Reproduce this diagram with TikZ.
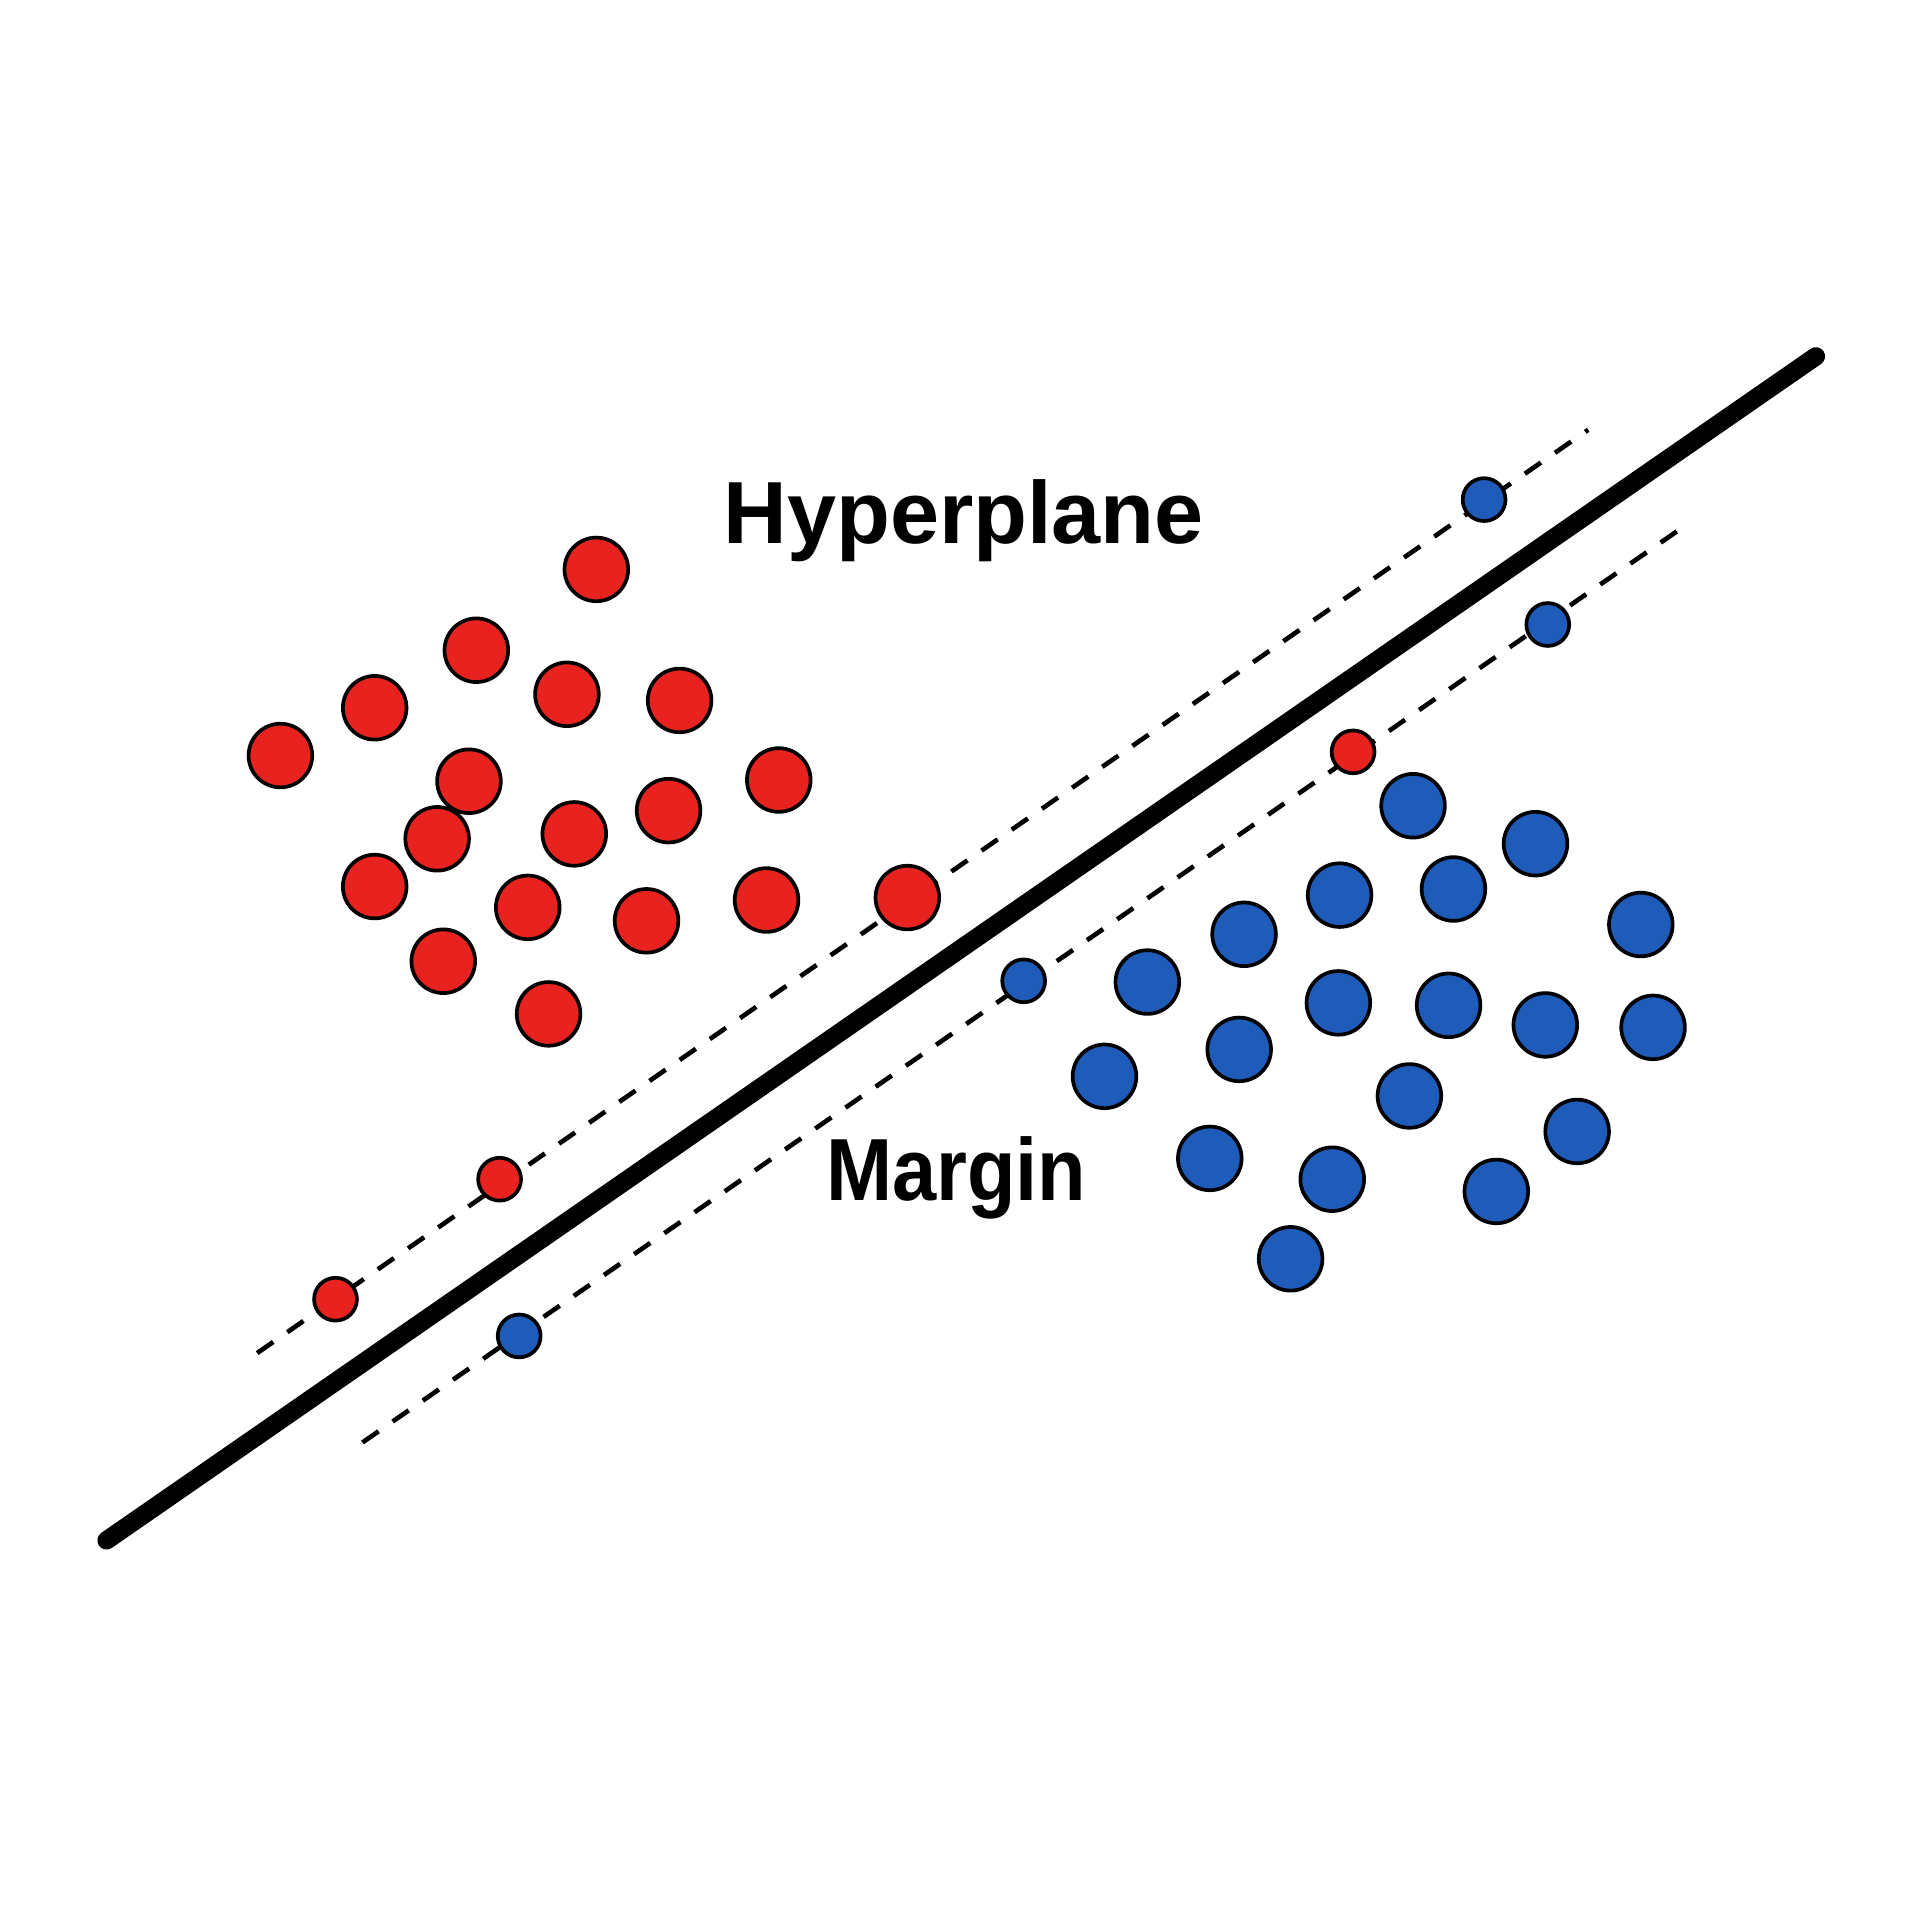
\documentclass[tikz,border=0pt]{standalone}
\usepackage{fontspec}
\setmainfont{Liberation Sans}
\definecolor{dotred}{HTML}{E8231F}
\definecolor{dotblue}{HTML}{1F5BB8}
\begin{document}
\begin{tikzpicture}[x=0.1mm,y=-0.1mm,
  reddot/.style={circle,draw=black,line width=0.3mm,fill=dotred,minimum size=5.2mm,inner sep=0pt},
  bluedot/.style={circle,draw=black,line width=0.3mm,fill=dotblue,minimum size=5.2mm,inner sep=0pt},
  smallred/.style={reddot,minimum size=3.5mm},
  smallblue/.style={bluedot,minimum size=3.5mm},
  marginline/.style={line width=0.38mm,dash pattern=on 1.6mm off 1.4mm},
  hyperline/.style={line width=1.5mm,line cap=round},
  lbl/.style={font=\bfseries\fontsize{20.5}{24}\selectfont,inner sep=0pt}]
\useasboundingbox[fill=white] (0,0) rectangle (1568,1568);
% lines
\coordinate (h1) at (87,1258);
\coordinate (h2) at (1483,291);
\coordinate (u1) at (210,1105);
\coordinate (u2) at (1297,351);
\coordinate (l1) at (296,1178);
\coordinate (l2) at (1378,428);
\draw[marginline] (u1) -- (u2);
\draw[marginline] (l1) -- (l2);
\draw[hyperline] (h1) -- (h2);
% labels
\node[lbl] (hyp) at (787,425) {Hyperplane};
\node[lbl,xscale=0.9,transform shape] (mar) at (781,962) {Margin};
% red points
\node[reddot] (r1) at (487,465) {};
\node[reddot] (r2) at (389,531) {};
\node[reddot] (r3) at (306,578) {};
\node[reddot] (r4) at (463,567) {};
\node[reddot] (r5) at (555,572) {};
\node[reddot] (r6) at (229,617) {};
\node[reddot] (r7) at (383,638) {};
\node[reddot] (r8) at (636,637) {};
\node[reddot] (r9) at (357,685) {};
\node[reddot] (r10) at (469,681) {};
\node[reddot] (r11) at (546,662) {};
\node[reddot] (r12) at (306,724) {};
\node[reddot] (r13) at (431,741) {};
\node[reddot] (r14) at (528,752) {};
\node[reddot] (r15) at (626,735) {};
\node[reddot] (r16) at (362,785) {};
\node[reddot] (r17) at (448,828) {};
\node[reddot] (r18) at (741,733) {};
\node[smallred] (rs1) at (408,963) {};
\node[smallred] (rs2) at (274,1061) {};
\node[smallred] (rs3) at (1105,614) {};
% blue points
\node[bluedot] (b1) at (1154,658) {};
\node[bluedot] (b2) at (1254,689) {};
\node[bluedot] (b3) at (1094,731) {};
\node[bluedot] (b4) at (1187,726) {};
\node[bluedot] (b5) at (1340,755) {};
\node[bluedot] (b6) at (1016,763) {};
\node[bluedot] (b7) at (937,802) {};
\node[bluedot] (b8) at (1093,819) {};
\node[bluedot] (b9) at (1183,821) {};
\node[bluedot] (b10) at (1262,837) {};
\node[bluedot] (b11) at (1350,839) {};
\node[bluedot] (b12) at (1012,857) {};
\node[bluedot] (b13) at (902,879) {};
\node[bluedot] (b14) at (1151,895) {};
\node[bluedot] (b15) at (1288,924) {};
\node[bluedot] (b16) at (988,946) {};
\node[bluedot] (b17) at (1088,963) {};
\node[bluedot] (b18) at (1222,973) {};
\node[bluedot] (b19) at (1054,1028) {};
\node[smallblue] (bs1) at (1212,408) {};
\node[smallblue] (bs2) at (1264,510) {};
\node[smallblue] (bs3) at (836,801) {};
\node[smallblue] (bs4) at (424,1091) {};
\end{tikzpicture}
\end{document}
